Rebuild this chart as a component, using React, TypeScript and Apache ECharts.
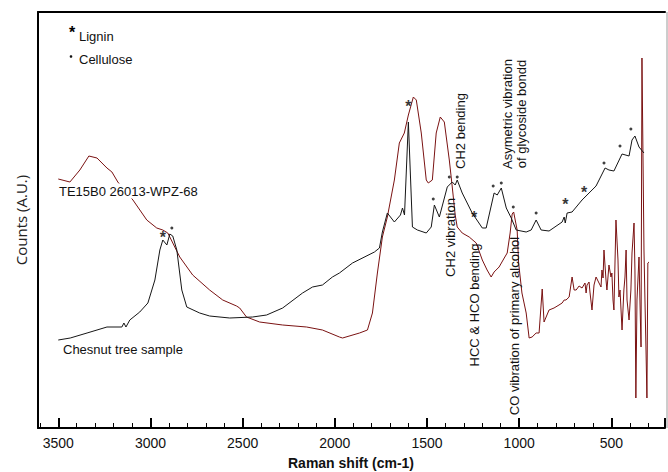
import React, { useEffect, useRef } from "react";
import * as echarts from "echarts";

// Raman shift extent (cm-1) and axis tick labels
const shiftMin = 209;
const shiftMax = 3610;
const xTickLabels = [3500, 3000, 2500, 2000, 1500, 1000, 500];
const countsMax = 416;

// Chesnut tree sample (black): [Raman shift, counts]
const chesnutSpectrum = [
  [3500, 88], [3435, 90], [3344, 95], [3236, 101], [3155, 101], [3144, 105], [3133, 101],
  [3112, 108], [3058, 116], [3014, 125], [2976, 148], [2949, 178], [2933, 188], [2911, 183],
  [2895, 194], [2879, 192], [2857, 178], [2830, 138], [2803, 121], [2733, 115], [2679, 112],
  [2570, 110], [2446, 111], [2370, 113], [2283, 120], [2175, 135], [2121, 141], [2067, 143],
  [2013, 151], [1975, 155], [1904, 165], [1785, 176], [1758, 180], [1742, 196], [1715, 215],
  [1677, 206], [1644, 213], [1633, 220], [1622, 213], [1601, 306], [1579, 201], [1552, 198],
  [1504, 195], [1477, 201], [1460, 223], [1433, 211], [1390, 241], [1363, 246], [1347, 243],
  [1336, 248], [1309, 235], [1255, 215], [1200, 200], [1179, 200], [1136, 235], [1119, 233],
  [1097, 240], [1070, 220], [1043, 210], [1016, 198], [962, 196], [935, 198], [908, 208],
  [881, 198], [838, 197], [767, 206], [756, 211], [750, 205], [740, 215], [713, 216],
  [659, 228], [583, 242], [534, 260], [513, 258], [486, 257], [442, 274], [404, 272],
  [388, 288], [372, 292], [350, 281], [323, 275],
];

// TE15B0 26013-WPZ-68 (dark red): [Raman shift, counts]
const teSpectrum = [
  [3500, 249], [3437, 246], [3383, 258], [3334, 272], [3290, 270], [3236, 260], [3209, 256],
  [3177, 246], [3095, 228], [3020, 208], [2966, 200], [2933, 198], [2906, 195], [2895, 191],
  [2841, 171], [2771, 153], [2679, 138], [2608, 128], [2533, 122], [2516, 120], [2479, 111],
  [2408, 106], [2283, 103], [2153, 101], [2067, 98], [1975, 91], [1958, 90], [1866, 95],
  [1823, 98], [1796, 115], [1769, 155], [1742, 191], [1715, 211], [1677, 248], [1650, 285],
  [1623, 295], [1601, 313], [1574, 331], [1558, 328], [1531, 295], [1504, 248], [1493, 245],
  [1471, 248], [1450, 295], [1428, 311], [1406, 306], [1379, 268], [1363, 241], [1347, 213],
  [1336, 201], [1309, 195], [1271, 191], [1233, 185], [1200, 168], [1174, 158], [1152, 151],
  [1136, 156], [1109, 161], [1081, 170], [1065, 175], [1049, 195], [1038, 214], [1030, 216],
  [1011, 198], [1003, 165], [985, 135], [962, 115], [946, 90], [930, 91], [908, 95],
  [892, 95], [875, 139], [865, 106], [838, 118], [811, 120], [784, 123], [767, 125],
  [756, 128], [746, 128], [729, 131], [713, 151], [702, 138], [691, 138], [675, 142],
  [659, 140], [643, 145], [637, 135], [632, 143], [621, 146], [616, 136], [605, 118],
  [594, 143], [583, 151], [567, 145], [556, 141], [551, 158], [545, 150], [540, 178],
  [529, 148], [524, 138], [513, 163], [502, 151], [497, 155], [491, 128], [486, 118],
  [475, 208], [464, 168], [459, 131], [453, 138], [442, 98], [432, 138], [426, 151],
  [420, 178], [415, 128], [404, 108], [394, 138], [388, 175], [377, 205], [372, 158],
  [367, 30], [361, 128], [350, 171], [345, 128], [339, 81], [334, 370], [323, 178],
  [318, 131], [312, 78], [307, 30], [302, 165], [296, 166],
];

// Band markers
const ligninMarks = [[2933, 195], [1601, 326], [1244, 215], [750, 228], [648, 240]];
const celluloseMarks = [
  [2884, 200], [1466, 229], [1379, 251], [1336, 251], [1141, 242], [1097, 245],
  [1032, 221], [908, 215], [540, 265], [453, 282], [394, 299],
];

const bandLabels = [
  "CH2 vibration",
  "CH2 bending",
  "Asymetric vibration\nof glycoside bondd",
  "HCC & HCO bending",
  "CO vibration of primary alcohol",
];

const FONT = '"Liberation Sans", Arial, Helvetica, sans-serif';

export default function App() {
  const ref = useRef<HTMLDivElement>(null);
  useEffect(() => {
    if (!ref.current) return;
    const chart = echarts.init(ref.current, undefined, { renderer: "svg" });
    const txt = (text: string, x: number, y: number, extra: any = {}, rot = 0) => ({
      type: "text",
      x,
      y,
      rotation: rot,
      z: 100,
      style: {
        text,
        fill: "#111",
        fontSize: 13,
        fontFamily: FONT,
        align: "left",
        verticalAlign: "middle",
        ...extra,
      },
    });
    const R = Math.PI / 2;
    const baseX = {
      type: "value",
      inverse: true,
      min: shiftMin,
      max: shiftMax,
      splitNumber: 7,
      splitLine: { show: false },
    };
    const option: any = {
      animation: false,
      backgroundColor: "#fff",
      grid: { left: 38, right: 1, top: 12, bottom: 44, containLabel: false },
      xAxis: [
        {
          ...baseX,
          position: "bottom",
          axisLine: { lineStyle: { color: "#000", width: 2 } },
          axisTick: { inside: true, length: 10, lineStyle: { color: "#000", width: 2 } },
          minorTick: { show: true, splitNumber: 5, length: 5, lineStyle: { color: "#000", width: 1 } },
          axisLabel: {
            margin: 8,
            color: "#111",
            fontSize: 14,
            fontFamily: FONT,
            showMinLabel: true,
            showMaxLabel: true,
            formatter: (v: number) => (xTickLabels.includes(v) ? String(v) : ""),
          },
        },
        {
          ...baseX,
          position: "top",
          axisLine: { lineStyle: { color: "#000", width: 2 } },
          axisTick: { show: false },
          axisLabel: { show: false },
        },
      ],
      yAxis: {
        type: "value",
        min: 0,
        max: countsMax,
        name: "Counts (A.U.)",
        nameLocation: "middle",
        nameGap: 10,
        nameTextStyle: { fontFamily: '"Open Sans", sans-serif', fontSize: 15, color: "#222" },
        axisLine: { show: true, lineStyle: { color: "#000", width: 2 } },
        axisTick: { show: false },
        axisLabel: { show: false },
        splitLine: { show: false },
      },
      series: [
        {
          type: "line",
          name: "Chesnut tree sample",
          data: chesnutSpectrum,
          showSymbol: false,
          lineStyle: { color: "#161616", width: 1 },
          itemStyle: { color: "#161616" },
          z: 3,
        },
        {
          type: "line",
          name: "TE15B0 26013-WPZ-68",
          data: teSpectrum,
          showSymbol: false,
          lineStyle: { color: "#7a1212", width: 1 },
          itemStyle: { color: "#7a1212" },
          z: 2,
        },
        {
          type: "scatter",
          name: "Cellulose",
          data: celluloseMarks,
          symbol: "circle",
          symbolSize: 3,
          itemStyle: { color: "#111" },
          z: 5,
        },
        {
          type: "scatter",
          name: "Lignin",
          data: ligninMarks,
          symbol: "circle",
          symbolSize: 1,
          itemStyle: { color: "rgba(0,0,0,0)" },
          label: {
            show: true,
            position: "inside",
            formatter: "*",
            offset: [0, 4],
            color: "#000",
            fontSize: 16,
            fontWeight: "bold",
            fontFamily: FONT,
          },
          z: 5,
        },
      ],
      graphic: [
        {
          type: "line",
          z: 50,
          shape: { x1: 667, y1: 12, x2: 667, y2: 428 },
          style: { stroke: "#9a9a9a", lineWidth: 1 },
        },
        txt("*", 72, 32, { align: "center", fontSize: 16, fontWeight: "bold", fill: "#000" }),
        txt("Lignin", 79, 36),
        { type: "circle", z: 100, shape: { cx: 71, cy: 56.5, r: 1.3 }, style: { fill: "#111" } },
        txt("Cellulose", 79, 59),
        txt("TE15B0 26013-WPZ-68", 58, 191, { backgroundColor: "#fff", padding: [1, 1] }),
        txt("Chesnut tree sample", 63, 349),
        txt(bandLabels[0], 450, 237.5, { align: "center" }, R),
        txt(bandLabels[1], 460, 131, { align: "center" }, R),
        txt(bandLabels[2], 514, 114, { align: "center", lineHeight: 14 }, R),
        txt(bandLabels[3], 474, 305, { align: "center" }, R),
        txt(bandLabels[4], 514, 326, { align: "center" }, R),
        txt("Raman shift (cm-1)", 351, 463, { align: "center", fontSize: 14, fontWeight: "bold" }),
      ],
    };
    chart.setOption(option);
    return () => chart.dispose();
  }, []);
  return (
    <div
      ref={ref}
      style={{ position: "fixed", left: 0, top: 0, width: 668, height: 472, background: "#fff" }}
    />
  );
}
